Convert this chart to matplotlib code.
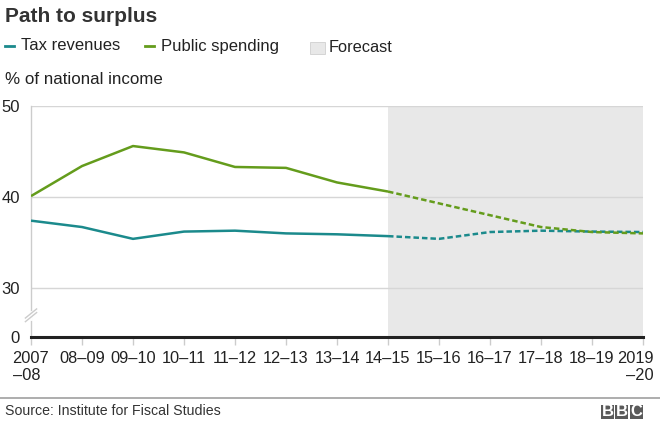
import matplotlib.pyplot as plt
import matplotlib.transforms as mtransforms
from matplotlib.patches import Rectangle
from matplotlib.lines import Line2D

plt.rcParams['font.family'] = ['Liberation Sans', 'DejaVu Sans']

years = ['2007\n\u201308', '08\u201309', '09\u201310', '10\u201311', '11\u201312', '12\u201313',
         '13\u201314', '14\u201315', '15\u201316', '16\u201317', '17\u201318', '18\u201319', '2019\n\u201320']
tax = [37.4, 36.7, 35.4, 36.2, 36.3, 36.0, 35.9, 35.7, 35.4, 36.15, 36.3, 36.2, 36.15]
spend = [40.1, 43.4, 45.6, 44.9, 43.3, 43.2, 41.6, 40.6, 39.3, 38.0, 36.7, 36.15, 36.0]
forecast_from = 7
ytick_vals = [30, 40, 50]

teal = '#1b8a8c'
green = '#649c1c'
grey_txt = '#222222'

W, H = 660, 424
fig = plt.figure(figsize=(W / 100, H / 100), dpi=100)

# y axis is broken: 0 sits 49px below 30 (10 units = 91px)
y_zero = 30 - 49 / 9.1

ax = fig.add_axes([31 / W, 1 - 337 / H, 612 / W, 231 / H])
x = list(range(len(years)))
ax.set_xlim(0, len(years) - 1)
ax.set_ylim(y_zero, 50)

ax.axvspan(forecast_from, len(years) - 1, color='#e8e8e8', lw=0, zorder=0)
for v in ytick_vals:
    ax.axhline(v, color='#d6d6d6', lw=1, zorder=1)
ax.axhline(y_zero, color='#222222', lw=2.2, zorder=4, clip_on=False)

k = forecast_from
ax.plot(x[:k + 1], tax[:k + 1], color=teal, lw=1.8, zorder=3, solid_capstyle='butt')
ax.plot(x[k:], tax[k:], color=teal, lw=1.8, zorder=3, dashes=(2.2, 1.2))
ax.plot(x[:k + 1], spend[:k + 1], color=green, lw=1.8, zorder=3, solid_capstyle='butt')
ax.plot(x[k:], spend[k:], color=green, lw=1.8, zorder=3, dashes=(2.2, 1.2))

for s in ['top', 'right', 'bottom']:
    ax.spines[s].set_visible(False)
ax.spines['left'].set_color('#cccccc')
ax.spines['left'].set_linewidth(1)

ax.set_yticks([y_zero] + ytick_vals)
ax.set_yticklabels(['0'] + [str(v) for v in ytick_vals])
ax.tick_params(axis='y', length=0, pad=8, labelsize=12, labelcolor=grey_txt)
ax.set_xticks(x)
ax.set_xticklabels(years)
ax.tick_params(axis='x', length=6, width=1, color='#cccccc', pad=4, labelsize=11.8,
               labelcolor=grey_txt)
labs = ax.get_xticklabels()
labs[0].set_multialignment('left')
labs[-1].set_multialignment('right')
labs[-1].set_horizontalalignment('right')
labs[-1].set_transform(labs[-1].get_transform() +
                       mtransforms.ScaledTranslation(11 / 100, 0, fig.dpi_scale_trans))

# axis break mark: small gap in the spine with a "//"
ax.plot([0, 0], [26.6, 27.4], color='white', lw=2, clip_on=False, zorder=5)
for dy in (0, 0.4):
    ax.plot([-0.11, 0.11], [26.3 + dy, 27.3 + dy], color='#cccccc', lw=1,
            clip_on=False, zorder=6)

# header
fig.text(5 / W, 1 - 16 / H, 'Path to surplus', fontsize=15, fontweight='bold',
         color='#333333', va='center', ha='left')
fig.add_artist(Line2D([5 / W, 14 / W], [1 - 46 / H] * 2, color=teal, lw=2))
fig.text(21 / W, 1 - 46 / H, 'Tax revenues', fontsize=12, color=grey_txt, va='center')
fig.add_artist(Line2D([145 / W, 154 / W], [1 - 46 / H] * 2, color=green, lw=2))
fig.text(161 / W, 1 - 46 / H, 'Public spending', fontsize=12, color=grey_txt, va='center')
fig.add_artist(Rectangle((310 / W, 1 - 54 / H), 15 / W, 12 / H, facecolor='#e8e8e8',
                         edgecolor='#d0d0d0', lw=0.6, transform=fig.transFigure))
fig.text(329 / W, 1 - 47 / H, 'Forecast', fontsize=11.8, color=grey_txt, va='center')
fig.text(5 / W, 1 - 79 / H, '% of national income', fontsize=12.2, color=grey_txt, va='center')

# footer
fig.add_artist(Line2D([0, 1], [1 - 398 / H] * 2, color='#a0a0a0', lw=1.2))
fig.text(5 / W, 1 - 411 / H, 'Source: Institute for Fiscal Studies', fontsize=10.2,
         color='#333333', va='center')
for i, ch in enumerate('BBC'):
    x0 = 601 + i * 14.3
    fig.add_artist(Rectangle((x0 / W, 1 - 419 / H), 13 / W, 14.5 / H, facecolor='#5a5a5a',
                             lw=0, transform=fig.transFigure))
    fig.text((x0 + 6.5) / W, 1 - 411.5 / H, ch, fontsize=12, fontweight='bold',
             color='white', ha='center', va='center')

fig.savefig('out.png', dpi=100)
